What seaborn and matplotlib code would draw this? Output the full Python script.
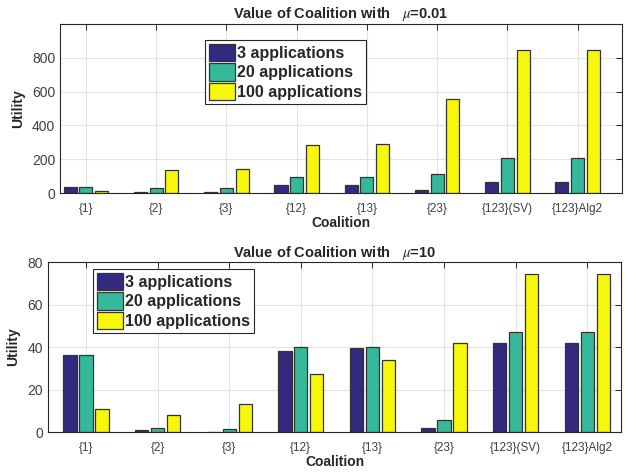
import pandas as pd
import matplotlib
matplotlib.use("Agg")
import matplotlib.pyplot as plt
import seaborn as sns

# values
coalitions = ["{1}", "{2}", "{3}", "{12}", "{13}", "{23}", "{123}(SV)", "{123}Alg2"]
series = ["3 applications", "20 applications", "100 applications"]

# mu = 0.01
top_3 = [37, 8, 8, 47, 47, 20, 65, 65]
top_20 = [37, 31, 31, 92, 92, 114, 206, 206]
top_100 = [14, 139, 143, 286, 292, 559, 847, 847]

# mu = 10
bot_3 = [36.2, 0.8, 0.2, 38.3, 39.4, 1.7, 42.1, 42.1]
bot_20 = [36.2, 1.7, 1.3, 40.2, 40.2, 5.8, 46.9, 46.9]
bot_100 = [11.0, 8.1, 13.1, 27.4, 34.1, 42.1, 74.3, 74.3]

colors = ["#33297f", "#36b89b", "#f7f70c"]


def make_long(v3, v20, v100):
    rows = []
    for name, vals in zip(series, [v3, v20, v100]):
        for c, v in zip(coalitions, vals):
            rows.append({"Coalition": c, "Utility": v, "apps": name})
    return pd.DataFrame(rows)


sns.set_style("white")
plt.rcParams["font.family"] = ["Liberation Sans", "DejaVu Sans"]
plt.rcParams["mathtext.fontset"] = "stix"

fig = plt.figure(figsize=(6.37, 4.76), dpi=100)
ax1 = fig.add_axes([0.0942, 0.5945, 0.882, 0.355])
ax2 = fig.add_axes([0.0754, 0.0924, 0.8995, 0.357])

panels = [
    (ax1, make_long(top_3, top_20, top_100), r"Value of Coalition with   $\mu$=0.01",
     (0, 1000), [0, 200, 400, 600, 800], (-0.37, 7.63), (0.258, 0.905)),
    (ax2, make_long(bot_3, bot_20, bot_100), r"Value of Coalition with   $\mu$=10",
     (0, 80), [0, 20, 40, 60, 80], (-0.53, 7.47), (0.0785, 0.959)),
]

for ax, df, title, ylim, yticks, xlim, leg_pos in panels:
    sns.barplot(data=df, x="Coalition", y="Utility", hue="apps", hue_order=series,
                order=coalitions, palette=colors, saturation=1, width=0.67, gap=0.17,
                edgecolor="#333333", linewidth=0.9, ax=ax)
    ax.set_ylim(*ylim)
    ax.set_yticks(yticks)
    ax.set_xlim(*xlim)
    ax.grid(True, color="#e3e3e3", linewidth=0.8)
    ax.set_axisbelow(True)
    ax.tick_params(direction="in", length=4, width=0.7, colors="#262626",
                   top=True, right=True, labelsize=10)
    ax.tick_params(axis="x", labelsize=8.5, pad=7)
    for lab in ax.get_xticklabels() + ax.get_yticklabels():
        lab.set_color("#404040")
    for s in ax.spines.values():
        s.set_color("#262626")
        s.set_linewidth(0.8)
    ax.set_title(title, fontsize=10.5, fontweight="bold", pad=4)
    ax.set_xlabel("Coalition", fontsize=10, fontweight="bold", labelpad=1)
    ax.set_ylabel("Utility", fontsize=10, fontweight="bold", labelpad=5)
    leg = ax.legend(loc="upper left", bbox_to_anchor=leg_pos, frameon=True,
                    fancybox=False, framealpha=1, edgecolor="#262626",
                    prop={"weight": "bold", "size": 11.5},
                    handlelength=1.6, handleheight=1.3, handletextpad=0.15,
                    labelspacing=0.12, borderpad=0.25, borderaxespad=0)
    leg.get_frame().set_linewidth(0.8)

fig.savefig("out.png", dpi=100)
